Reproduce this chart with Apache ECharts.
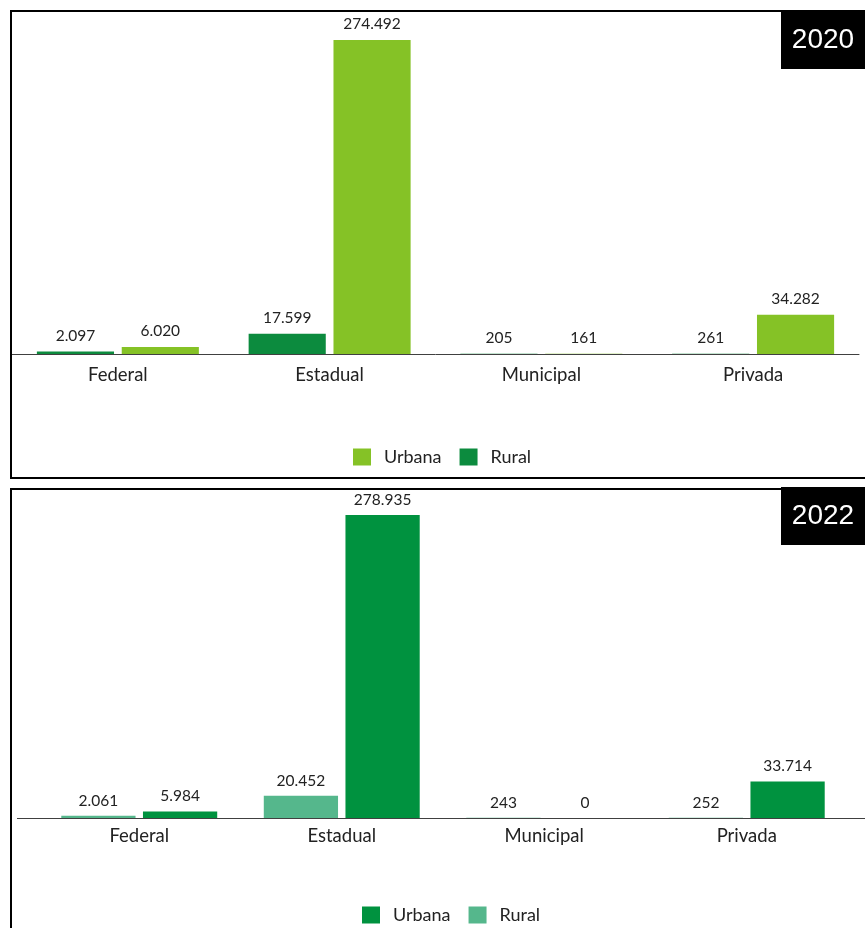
<!DOCTYPE html>
<html>
<head>
<meta charset="utf-8">
<script src="https://cdn.jsdelivr.net/npm/echarts@6/dist/echarts.min.js"></script>
<style>
  html, body { margin: 0; padding: 0; background: #fff; width: 865px; height: 928px; overflow: hidden; }
  #c2020 { position: absolute; left: 0; top: 0; width: 865px; height: 480px; }
  #c2022 { position: absolute; left: 0; top: 480px; width: 865px; height: 448px; }
</style>
</head>
<body>
<div id="c2020"></div>
<div id="c2022"></div>
<script>
// Matrículas por dependência administrativa e localização
const categories = ['Federal', 'Estadual', 'Municipal', 'Privada'];
const legendNames = ['Urbana', 'Rural'];

const rural2020 = [2097, 17599, 205, 261];
const urbana2020 = [6020, 274492, 161, 34282];

const rural2022 = [2061, 20452, 243, 252];
const urbana2022 = [5984, 278935, 0, 33714];

const FONT = 'Lato, "Open Sans", sans-serif';

function fmt(v) {
  return String(v).replace(/\B(?=(\d{3})+(?!\d))/g, '.');
}

function buildOption(cfg) {
  const labelCfg = {
    show: true, position: 'top', distance: cfg.labelDist,
    fontFamily: FONT, fontSize: 15.5, color: '#222',
    formatter: p => fmt(p.value)
  };
  const graphic = [
    { type: 'rect', z: 1, silent: true,
      shape: { x: 11, y: cfg.borderTop, width: 880, height: cfg.borderHeight },
      style: { fill: 'none', stroke: '#000', lineWidth: 2 } },
    { type: 'rect', z: 10, silent: true,
      shape: { x: 781, y: cfg.boxTop, width: 90, height: cfg.boxHeight },
      style: { fill: '#000' } },
    { type: 'text', z: 11, silent: true,
      x: 823, y: cfg.boxTop + cfg.boxHeight / 2,
      style: { text: cfg.year, fill: '#fff', fontSize: 28,
               fontFamily: '"Liberation Sans", Arial, sans-serif',
               align: 'center', verticalAlign: 'middle' } }
  ];
  if (cfg.extraAxis) {
    graphic.push({ type: 'line', z: 5, silent: true,
      shape: { x1: cfg.extraAxis[0], y1: cfg.axisY + 0.5, x2: cfg.extraAxis[1], y2: cfg.axisY + 0.5 },
      style: { stroke: '#404040', lineWidth: 1 } });
  }
  return {
    animation: false,
    backgroundColor: 'transparent',
    graphic: graphic,
    legend: {
      data: legendNames, left: cfg.legendLeft, top: cfg.legendTop,
      icon: 'rect', itemWidth: 18, itemHeight: 17, itemGap: 18,
      textStyle: { fontFamily: FONT, fontSize: 18, color: '#222', padding: [0, 0, 0, 8] },
      selectedMode: false
    },
    grid: { left: cfg.grid[0], right: cfg.grid[1], top: cfg.grid[2], bottom: cfg.grid[3] },
    xAxis: {
      type: 'category', data: categories,
      axisLine: { show: !cfg.extraAxis, lineStyle: { color: '#404040', width: 1 } },
      axisTick: { show: false },
      axisLabel: { fontFamily: FONT, fontSize: 18.5, color: '#222', margin: cfg.catMargin }
    },
    yAxis: { type: 'value', min: 0, max: cfg.yMax, show: false, splitLine: { show: false } },
    series: [
      { name: 'Rural', type: 'bar', data: cfg.rural, barGap: '10%', barCategoryGap: cfg.catGap,
        itemStyle: { color: cfg.ruralColor }, label: labelCfg },
      { name: 'Urbana', type: 'bar', data: cfg.urbana, barGap: '10%', barCategoryGap: cfg.catGap,
        itemStyle: { color: cfg.urbanaColor }, label: labelCfg }
    ]
  };
}

const chartA = echarts.init(document.getElementById('c2020'), null, { renderer: 'canvas' });
chartA.setOption(buildOption({
  year: '2020', borderTop: 11, borderHeight: 467, boxTop: 11, boxHeight: 58,
  grid: [12, 6, 40, 126], yMax: 274492, catGap: '23.5%', catMargin: 12, labelDist: 8,
  rural: rural2020, urbana: urbana2020,
  ruralColor: '#0C8B3E', urbanaColor: '#85C226',
  legendLeft: 348, legendTop: 443
}));

const chartB = echarts.init(document.getElementById('c2022'), null, { renderer: 'canvas' });
chartB.setOption(buildOption({
  year: '2022', borderTop: 9, borderHeight: 500, boxTop: 7, boxHeight: 58,
  grid: [38, 17, 35, 110], yMax: 278935, catGap: '23%', catMargin: 9, labelDist: 7,
  rural: rural2022, urbana: urbana2022,
  ruralColor: '#55B78C', urbanaColor: '#00923F',
  legendLeft: 357, legendTop: 421,
  extraAxis: [17, 865], axisY: 338
}));
</script>
</body>
</html>
